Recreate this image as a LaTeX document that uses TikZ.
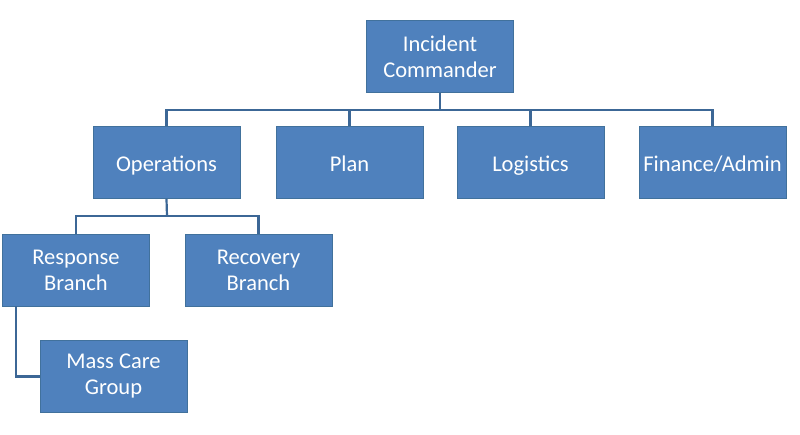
\documentclass[tikz,border=0pt]{standalone}
\usepackage{fontspec}
\setmainfont{Carlito}
\definecolor{boxfill}{HTML}{4F81BD}
\definecolor{boxline}{HTML}{41719C}
\definecolor{conn}{HTML}{3C6796}
\begin{document}
\begin{tikzpicture}[x=1pt,y=-1pt,
  orgbox/.style={draw=boxline,line width=1pt,fill=boxfill,text=white,minimum width=147pt,minimum height=72pt,align=center,font=\fontsize{22.5}{26}\selectfont,inner sep=0pt},
  oneline/.style={text height=19pt,text depth=2pt},
  conline/.style={draw=conn,line width=2.2pt}]
\useasboundingbox[fill=white] (0,0) rectangle (800,434);
\node[orgbox] (ic) at (440,56.5) {Incident\\Commander};
\node[orgbox,oneline] (ops) at (166.5,162.5) {Operations};
\node[orgbox,oneline] (plan) at (349.5,162.5) {Plan};
\node[orgbox,oneline] (log) at (530.5,162.5) {Logistics};
\node[orgbox,oneline] (fin) at (712.5,162.5) {Finance/Admin};
\node[orgbox] (resp) at (76,270) {Response\\Branch};
\node[orgbox] (rec) at (258.5,270) {Recovery\\Branch};
\node[orgbox] (mass) at (113.5,376.5) {Mass Care\\Group};
\coordinate (bus1) at (440,110);
\coordinate (bus2) at (167,216);
\draw[conline] (ic.south) -- (bus1);
\draw[conline] (ops.north) |- (bus1) -| (fin.north);
\draw[conline] (plan.north) -- (plan.north |- bus1);
\draw[conline] (log.north) -- (log.north |- bus1);
\draw[conline] (ops.south) -- (bus2);
\draw[conline] (resp.north) |- (bus2) -| (rec.north);
\coordinate (rb) at (16,306);
\draw[conline] (rb) |- (mass.west);
\end{tikzpicture}
\end{document}
